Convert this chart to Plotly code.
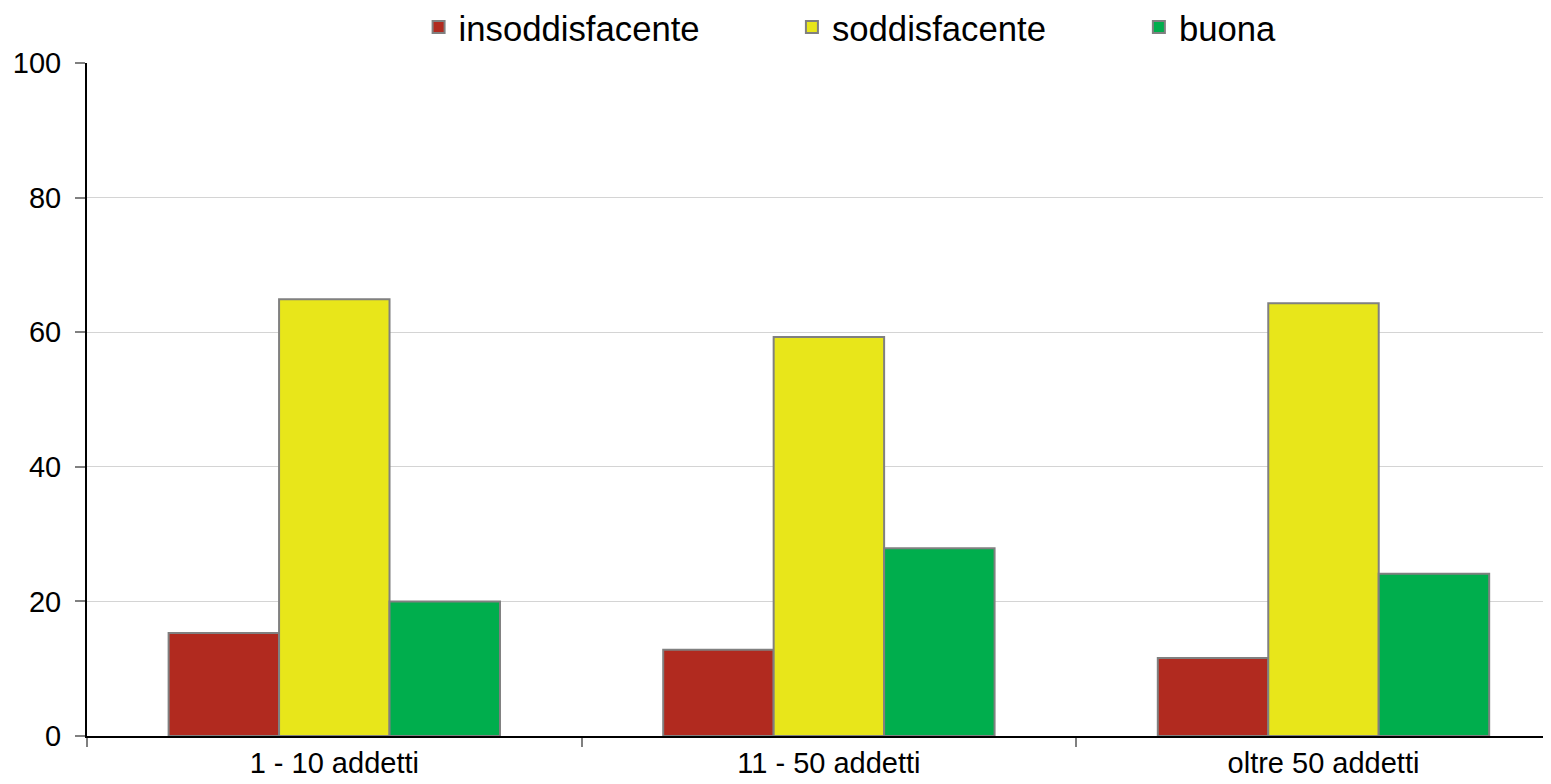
import plotly.graph_objects as go

categories = ["1 - 10 addetti", "11 - 50 addetti", "oltre 50 addetti"]
series_names = ["insoddisfacente", "soddisfacente", "buona"]
insoddisfacente = [15.3, 12.8, 11.6]
soddisfacente = [64.9, 59.3, 64.3]
buona = [20.0, 27.9, 24.1]
y_ticks = [0, 20, 40, 60, 80, 100]

colors = ["#B12A1F", "#E8E61A", "#00AE4D"]
values = [insoddisfacente, soddisfacente, buona]
legend_ids = ["legend", "legend2", "legend3"]
legend_x = [0.2265, 0.4815, 0.7185]

FONT = "Liberation Sans, Arial, sans-serif"
FIG_H = 776

fig = go.Figure()
for name, vals, col, lid in zip(series_names, values, colors, legend_ids):
    fig.add_trace(go.Bar(
        x=categories, y=vals, name=name, legend=lid,
        marker=dict(color=col, line=dict(color="#808080", width=2)),
    ))

legend_common = dict(
    orientation="h", yref="container", yanchor="middle", y=1 - 19.5 / FIG_H,
    xanchor="left",
    font=dict(family=FONT, size=34.7, color="black"),
    bgcolor="rgba(0,0,0,0)", borderwidth=0,
)
layout_legends = {}
for lid, lx in zip(legend_ids, legend_x):
    layout_legends[lid] = dict(legend_common, x=lx)

fig.update_layout(
    width=1543, height=FIG_H,
    margin=dict(l=79, r=0, t=55, b=48, autoexpand=False),
    paper_bgcolor="white", plot_bgcolor="white",
    barmode="group", bargap=0.33, bargroupgap=0,
    showlegend=True,
    font=dict(family=FONT, size=29, color="black"),
    **layout_legends,
)
fig.update_xaxes(
    type="category", range=[-0.5, 2.46],
    showline=True, linecolor="black", linewidth=2,
    ticks="outside", tickson="boundaries", ticklen=9, tickcolor="#808080", tickwidth=2,
    showgrid=False,
    tickfont=dict(family=FONT, size=29, color="black"),
)
fig.update_yaxes(
    range=[0, 100], tickvals=y_ticks,
    showline=True, linecolor="black", linewidth=2,
    ticks="outside", ticklen=10, tickcolor="#808080", tickwidth=2,
    ticklabelstandoff=8,
    showgrid=True, gridcolor="#D4D4D4", gridwidth=1,
    zeroline=False,
    tickfont=dict(family=FONT, size=29, color="black"),
)

fig.write_html("out.html")
